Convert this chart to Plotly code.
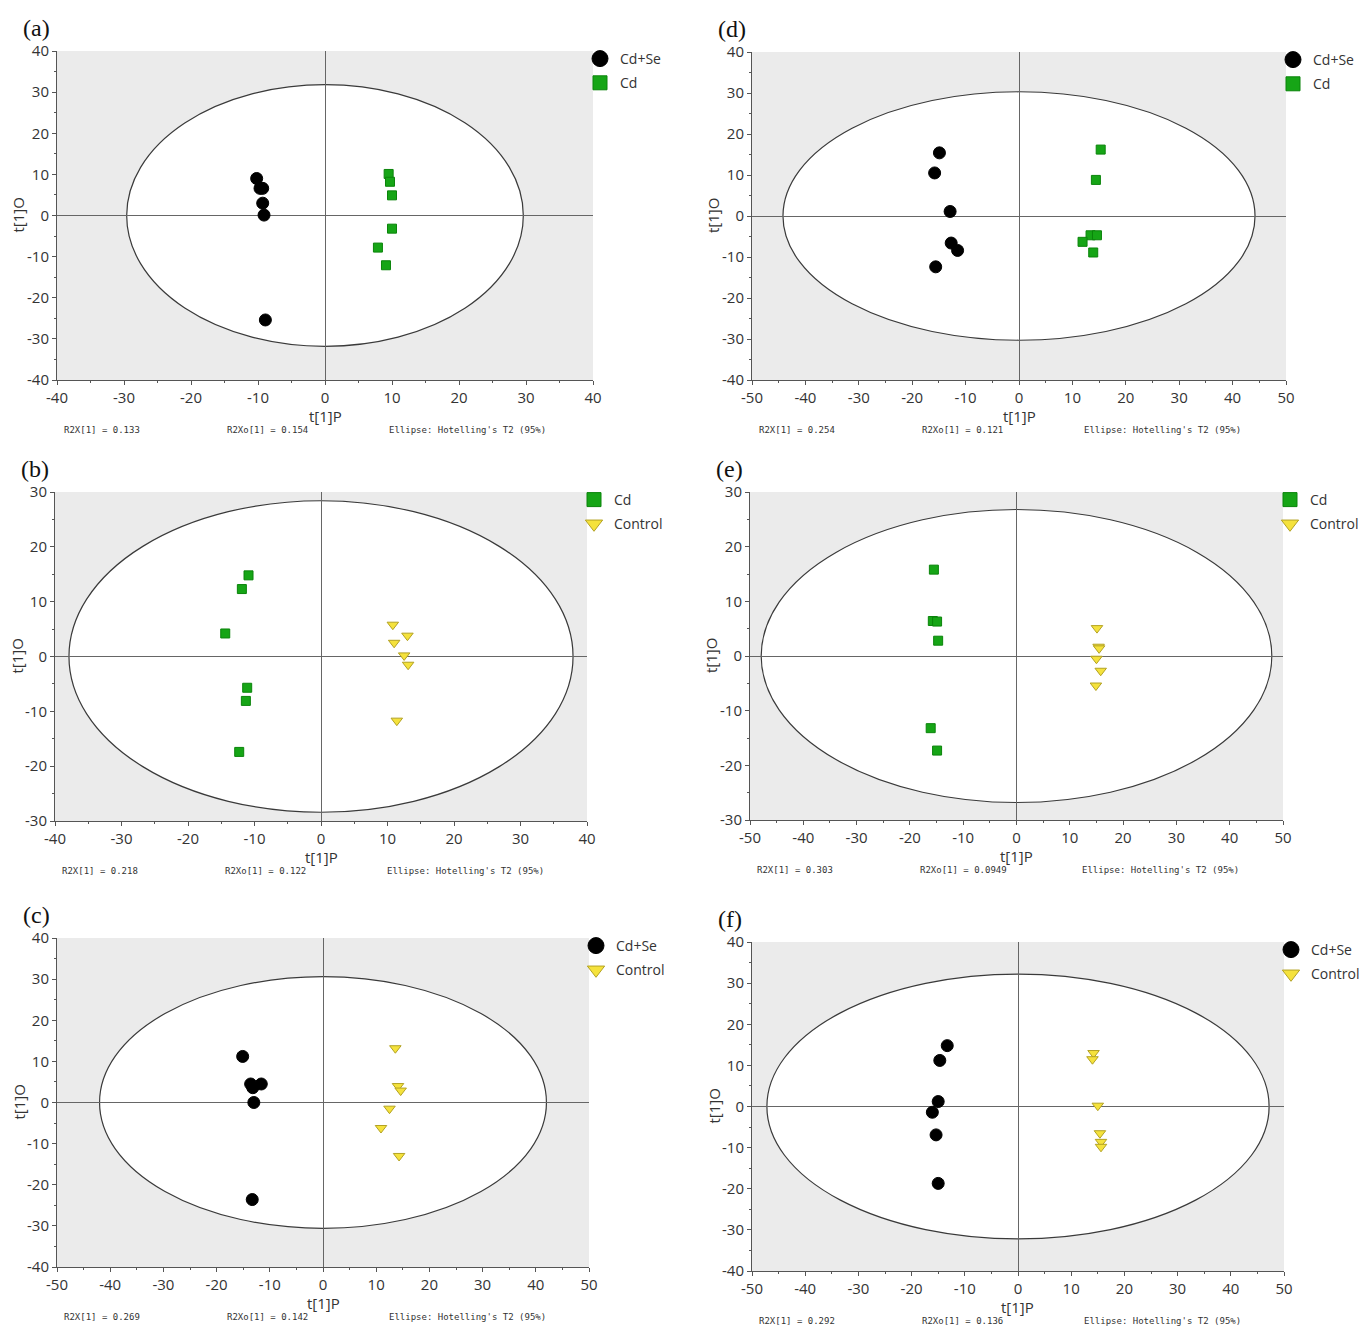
import plotly.graph_objects as go

W, H = 1363, 1327

# ---- OPLS-DA score values (t[1]P, t[1]O) for each comparison ----
# (a) Cd+Se vs Cd
a_cdse_x = [-10.2, -9.7, -9.3, -9.3, -9.1, -8.9]
a_cdse_y = [9.0, 6.6, 6.6, 3.0, 0.1, -25.4]
a_cd_x = [9.5, 9.7, 10.0, 10.0, 7.9, 9.1]
a_cd_y = [10.1, 8.2, 4.9, -3.2, -7.8, -12.1]

# (b) Cd vs Control
b_cd_x = [-10.9, -11.9, -14.4, -11.1, -11.3, -12.3]
b_cd_y = [14.8, 12.3, 4.2, -5.7, -8.1, -17.4]
b_ctrl_x = [10.8, 13.0, 11.0, 12.5, 13.1, 11.4]
b_ctrl_y = [5.8, 3.8, 2.5, 0.2, -1.5, -11.7]

# (c) Cd+Se vs Control
c_cdse_x = [-15.1, -13.6, -13.2, -11.6, -13.0, -13.3]
c_cdse_y = [11.2, 4.5, 3.6, 4.5, 0.0, -23.6]
c_ctrl_x = [13.6, 14.1, 14.6, 12.5, 10.9, 14.3]
c_ctrl_y = [13.2, 4.0, 2.9, -1.5, -6.2, -13.0]

# (d) Cd+Se vs Cd
d_cdse_x = [-14.9, -15.8, -12.9, -12.7, -11.5, -15.6]
d_cdse_y = [15.4, 10.5, 1.1, -6.6, -8.4, -12.4]
d_cd_x = [15.3, 14.4, 13.4, 14.6, 11.9, 13.9]
d_cd_y = [16.2, 8.8, -4.7, -4.7, -6.3, -8.9]

# (e) Cd vs Control
e_cd_x = [-15.5, -15.7, -14.9, -14.7, -16.1, -14.9]
e_cd_y = [15.8, 6.4, 6.3, 2.8, -13.2, -17.3]
e_ctrl_x = [15.1, 15.4, 15.5, 15.0, 15.8, 14.9]
e_ctrl_y = [5.1, 1.7, 1.4, -0.5, -2.7, -5.4]

# (f) Cd+Se vs Control
f_cdse_x = [-13.3, -14.7, -15.0, -16.1, -15.4, -15.0]
f_cdse_y = [14.8, 11.2, 1.2, -1.4, -6.9, -18.7]
f_ctrl_x = [14.2, 14.0, 15.0, 15.4, 15.6, 15.6]
f_ctrl_y = [13.0, 11.5, 0.2, -6.5, -8.6, -9.8]

# Hotelling's T2 (95%) ellipse semi-axes (t[1]P, t[1]O)
ellipse_a = [29.6, 31.8]
ellipse_b = [37.9, 28.4]
ellipse_c = [42.0, 30.6]
ellipse_d = [44.2, 30.3]
ellipse_e = [47.9, 26.8]
ellipse_f = [47.2, 32.2]

# Model statistics printed under each plot
r2x = ["0.133", "0.218", "0.269", "0.254", "0.303", "0.292"]
r2xo = ["0.154", "0.122", "0.142", "0.121", "0.0949", "0.136"]

panel_labels = ["(a)", "(b)", "(c)", "(d)", "(e)", "(f)"]

# Tick positions and labels (plain hyphen for negatives)
ticks_40 = [-40, -30, -20, -10, 0, 10, 20, 30, 40]
ticks_30 = [-30, -20, -10, 0, 10, 20, 30]
ticks_50 = [-50, -40, -30, -20, -10, 0, 10, 20, 30, 40, 50]

def tick_text(vals):
    return [str(v) for v in vals]

# ---- marker styling per group ----
STYLE = {
    "Cd+Se": dict(symbol="circle", size=12, color="#000000",
                  line=dict(color="#000000", width=1)),
    "Cd": dict(symbol="square", size=9, color="#16a516",
               line=dict(color="#0b840b", width=1)),
    "Control": dict(symbol="triangle-down", size=10, color="#f5e23c",
                    line=dict(color="#b3a223", width=1)),
}
LEGEND_SIZE = {"Cd+Se": 16, "Cd": 14, "Control": 15}

# Panel definitions: label, groups, axis ranges/ticks, ellipse, plot box in px (l, t, r, b)
panels = [
    dict(label=panel_labels[0], groups=[("Cd+Se", a_cdse_x, a_cdse_y), ("Cd", a_cd_x, a_cd_y)],
         xr=(-40, 40), yr=(-40, 40), xt=ticks_40, yt=ticks_40, ell=ellipse_a, box=(57, 51, 593, 380)),
    dict(label=panel_labels[1], groups=[("Cd", b_cd_x, b_cd_y), ("Control", b_ctrl_x, b_ctrl_y)],
         xr=(-40, 40), yr=(-30, 30), xt=ticks_40, yt=ticks_30, ell=ellipse_b, box=(55, 492, 587, 821)),
    dict(label=panel_labels[2], groups=[("Cd+Se", c_cdse_x, c_cdse_y), ("Control", c_ctrl_x, c_ctrl_y)],
         xr=(-50, 50), yr=(-40, 40), xt=ticks_50, yt=ticks_40, ell=ellipse_c, box=(57, 938, 589, 1267)),
    dict(label=panel_labels[3], groups=[("Cd+Se", d_cdse_x, d_cdse_y), ("Cd", d_cd_x, d_cd_y)],
         xr=(-50, 50), yr=(-40, 40), xt=ticks_50, yt=ticks_40, ell=ellipse_d, box=(752, 52, 1286, 380)),
    dict(label=panel_labels[4], groups=[("Cd", e_cd_x, e_cd_y), ("Control", e_ctrl_x, e_ctrl_y)],
         xr=(-50, 50), yr=(-30, 30), xt=ticks_50, yt=ticks_30, ell=ellipse_e, box=(750, 492, 1283, 820)),
    dict(label=panel_labels[5], groups=[("Cd+Se", f_cdse_x, f_cdse_y), ("Control", f_ctrl_x, f_ctrl_y)],
         xr=(-50, 50), yr=(-40, 40), xt=ticks_50, yt=ticks_40, ell=ellipse_f, box=(752, 942, 1284, 1271)),
]

TEXT_COLOR = "#333333"
SANS = "Open Sans"
TICK_FONT = dict(family=SANS, size=15, color=TEXT_COLOR)
AXIS_COLOR = "#555555"

def px_x(v):
    return v / W

def px_y(v):
    return 1 - v / H

fig = go.Figure()
shapes, annotations = [], []
layout_extra = {}

for i, p in enumerate(panels):
    n = i + 1
    xa = "x" if n == 1 else f"x{n}"
    ya = "y" if n == 1 else f"y{n}"
    leg = "legend" if n == 1 else f"legend{n}"
    l, t, r, b = p["box"]

    for name, xs, ys in p["groups"]:
        st = STYLE[name]
        fig.add_trace(go.Scatter(
            x=xs, y=ys, mode="markers", name=name, xaxis=xa, yaxis=ya,
            marker=st, showlegend=False, hoverinfo="x+y+name"))
        # legend entry drawn with a larger symbol
        fig.add_trace(go.Scatter(
            x=[None], y=[None], mode="markers", name=name, xaxis=xa, yaxis=ya,
            marker=dict(st, size=LEGEND_SIZE[name]), legend=leg, showlegend=True,
            legendgroup=f"{leg}-{name}"))

    axis_common = dict(
        showgrid=False, showline=True, linecolor=AXIS_COLOR, linewidth=1,
        ticks="outside", ticklen=4, tickcolor=AXIS_COLOR, tickwidth=1,
        tickfont=TICK_FONT, zeroline=True, zerolinecolor="#666666", zerolinewidth=1,
        tickmode="array", fixedrange=True, automargin=False,
        minor=dict(ticks="outside", dtick=5, ticklen=2, tickcolor=AXIS_COLOR),
    )
    layout_extra[("xaxis" if n == 1 else f"xaxis{n}")] = dict(
        axis_common, range=list(p["xr"]), tickvals=p["xt"], ticktext=tick_text(p["xt"]),
        domain=[px_x(l), px_x(r)], anchor=ya)
    layout_extra[("yaxis" if n == 1 else f"yaxis{n}")] = dict(
        axis_common, range=list(p["yr"]), tickvals=p["yt"], ticktext=tick_text(p["yt"]),
        domain=[px_y(b), px_y(t)], anchor=xa)

    layout_extra[leg] = dict(
        x=px_x(r - 13), y=px_y(t - 8), xanchor="left", yanchor="top",
        bgcolor="rgba(0,0,0,0)", font=dict(family=SANS, size=14, color=TEXT_COLOR),
        itemwidth=30, tracegroupgap=3)

    # 95% confidence ellipse
    ea, eb = p["ell"]
    shapes.append(dict(type="circle", xref=xa, yref=ya, x0=-ea, x1=ea, y0=-eb, y1=eb,
                       fillcolor="white", line=dict(color="#3a3a3a", width=1.2), layer="below"))

    # axis titles
    annotations.append(dict(text="t[1]P", x=px_x((l + r) / 2), y=px_y(b + 36), xref="paper", yref="paper",
                            xanchor="center", yanchor="middle", showarrow=False,
                            font=dict(family=SANS, size=15, color=TEXT_COLOR)))
    annotations.append(dict(text="t[1]O", x=px_x(l - 39), y=px_y((t + b) / 2), xref="paper", yref="paper",
                            xanchor="center", yanchor="middle", showarrow=False, textangle=-90,
                            font=dict(family=SANS, size=15, color=TEXT_COLOR)))
    # panel letter
    annotations.append(dict(text=p["label"], x=px_x(l - 36), y=px_y(t - 23), xref="paper", yref="paper",
                            xanchor="left", yanchor="middle", showarrow=False,
                            font=dict(family="Liberation Serif", size=24, color="#111111")))
    # model statistics footer
    foot = dict(family="DejaVu Sans Mono", size=9, color=TEXT_COLOR)
    for dx, txt in [(5, f"R2X[1] = {r2x[i]}"), (168, f"R2Xo[1] = {r2xo[i]}"),
                    (330, "Ellipse: Hotelling's T2 (95%)")]:
        annotations.append(dict(text=txt, x=px_x(l + dx), y=px_y(b + 50), xref="paper", yref="paper",
                                xanchor="left", yanchor="middle", showarrow=False, font=foot))

fig.update_layout(
    width=W, height=H, margin=dict(l=0, r=0, t=0, b=0, pad=0, autoexpand=False),
    paper_bgcolor="white", plot_bgcolor="#ebebeb",
    shapes=shapes, annotations=annotations, **layout_extra,
)

fig.write_html("out.html")
